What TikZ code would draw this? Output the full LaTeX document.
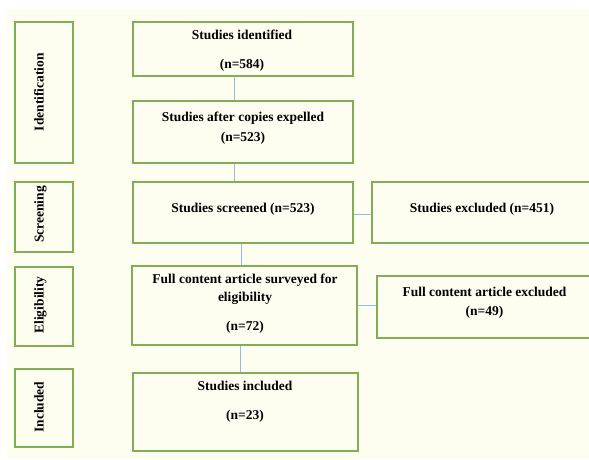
\documentclass[tikz,border=0pt]{standalone}
\usepackage{fontspec}
\setmainfont{Liberation Serif}
\definecolor{cream}{RGB}{254,254,240}
\definecolor{boxgreen}{RGB}{128,174,84}
\definecolor{linkblue}{RGB}{150,185,220}
\begin{document}
\begin{tikzpicture}[x=1pt,y=-1pt,
  box/.style={draw=boxgreen, line width=1.5pt, fill=cream, inner sep=0pt},
  txt/.style={font=\fontsize{13.5}{16}\selectfont\bfseries, anchor=base, inner sep=0pt},
  stage/.style={txt, rotate=90},
  link/.style={draw=linkblue, line width=0.9pt}]
\useasboundingbox (0,0) rectangle (589,459);
\clip (0,0) rectangle (589,459);
\fill[white] (0,0) rectangle (589,459);
\fill[cream] (7,9) rectangle (589,459);
% stage boxes
\node[box, minimum width=58pt, minimum height=141pt] (s1) at (44,92.5) {};
\node[box, minimum width=58pt, minimum height=70pt] (s2) at (44,217) {};
\node[box, minimum width=58pt, minimum height=79pt] (s3) at (44,306.5) {};
\node[box, minimum width=58pt, minimum height=78pt] (s4) at (44,408) {};
\node[stage] (t-s1) at (43.5,92) {Identification};
\node[stage] (t-s2) at (43.5,214.5) {Screening};
\node[stage] (t-s3) at (43.5,305) {Eligibility};
\node[stage] (t-s4) at (43.5,407) {Included};
% main boxes
\node[box, minimum width=220pt, minimum height=54pt] (b1) at (243,49) {};
\node[box, minimum width=220pt, minimum height=62pt] (b2) at (243,132) {};
\node[box, minimum width=220pt, minimum height=61pt] (b3) at (243,212.5) {};
\node[box, minimum width=225pt, minimum height=79pt] (b4) at (244.5,305.5) {};
\node[box, minimum width=225pt, minimum height=78pt] (b5) at (245.5,412) {};
\node[box, minimum width=228pt, minimum height=61pt] (e1) at (486,212.5) {};
\node[box, minimum width=223pt, minimum height=62pt] (e2) at (488.5,307) {};
% texts
\node[txt] (t-b1a) at (242,39.5) {Studies identified};
\node[txt] (t-b1b) at (242,68.5) {(n=584)};
\node[txt] (t-b2a) at (243,121.5) {Studies after copies expelled};
\node[txt] (t-b2b) at (243,141.5) {(n=523)};
\node[txt] (t-b3) at (243,212.5) {Studies screened (n=523)};
\node[txt] (t-e1) at (482,212.5) {Studies excluded (n=451)};
\node[txt] (t-b4a) at (245,283.5) {Full content article surveyed for};
\node[txt] (t-b4b) at (245,301.5) {eligibility};
\node[txt] (t-b4c) at (245,330.5) {(n=72)};
\node[txt] (t-e2a) at (484.5,296.5) {Full content article excluded};
\node[txt] (t-e2b) at (484.5,315.5) {(n=49)};
\node[txt] (t-b5a) at (245,390.5) {Studies included};
\node[txt] (t-b5b) at (245,419.5) {(n=23)};
% connectors
\draw[link] ([xshift=-9pt]b1.south) -- ([xshift=-9pt]b2.north);
\draw[link] ([xshift=-9pt]b2.south) -- ([xshift=-9pt]b3.north);
\draw[link] ([xshift=-2pt]b3.south) -- ([xshift=-2pt]b3.south |- b4.north);
\draw[link] ([xshift=-4.5pt]b4.south) -- ([xshift=-4.5pt]b4.south |- b5.north);
\draw[link] ([yshift=-2pt]b3.east) -- ([yshift=-2pt]b3.east -| e1.west);
\draw[link] (b4.east) -- (b4.east -| e2.west);
\end{tikzpicture}
\end{document}
